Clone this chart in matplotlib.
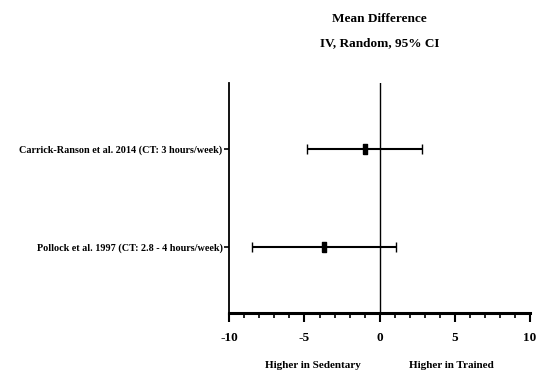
import matplotlib
matplotlib.use("Agg")
import matplotlib.pyplot as plt
import matplotlib.transforms as mtransforms
from matplotlib.ticker import MultipleLocator

studies = ["Carrick-Ranson et al. 2014 (CT: 3 hours/week)",
           "Pollock et al. 1997 (CT: 2.8 - 4 hours/week)"]
mean_diff = [-1.0, -3.7]
ci_low = [-4.8, -8.5]
ci_high = [2.8, 1.1]
row_pos = [2.5, 1.0]
xticks = [-10, -5, 0, 5, 10]
title_lines = ["Mean Difference", "IV, Random, 95% CI"]
left_note = "Higher in Sedentary"
right_note = "Higher in Trained"

plt.rcParams['font.family'] = ['Liberation Serif', 'DejaVu Serif']
plt.rcParams['font.weight'] = 'bold'

fig = plt.figure(figsize=(5.4, 3.79), dpi=100)
ax = fig.add_axes([229.3/540, (379-313)/379, (530-229.3)/540, (313-83)/379])

err_lo = [m - l for m, l in zip(mean_diff, ci_low)]
err_hi = [h - m for m, h in zip(mean_diff, ci_high)]
rect = [(-0.5, -1), (0.5, -1), (0.5, 1), (-0.5, 1), (-0.5, -1)]
ax.errorbar(mean_diff, row_pos, xerr=[err_lo, err_hi], fmt='none',
            ecolor='black', elinewidth=1.5, capsize=3.6, capthick=1.0, zorder=3)
ax.plot(mean_diff, row_pos, linestyle='none', marker=rect, markersize=6.5,
        color='black', zorder=4)
ax.axvline(0, color='black', linewidth=1.0, zorder=2)

ax.set_xlim(-10, 10)
ax.set_ylim(0, 3.5)
ax.set_xticks(xticks)
ax.set_xticklabels([str(t) for t in xticks])
ax.xaxis.set_minor_locator(MultipleLocator(1))
ax.set_yticks(row_pos)
ax.set_yticklabels(studies)

for s in ['top', 'right']:
    ax.spines[s].set_visible(False)
ax.spines['left'].set_linewidth(1.3)
ax.spines['bottom'].set_linewidth(2.2)

ax.tick_params(axis='x', which='major', direction='out', length=6.5, width=1.5,
               labelsize=9.5, pad=7)
ax.tick_params(axis='x', which='minor', direction='out', length=3.8, width=1.2)
ax.tick_params(axis='y', which='major', direction='out', length=3.8, width=1.2,
               labelsize=7.3, pad=1)
for lab in ax.get_xticklabels() + ax.get_yticklabels():
    lab.set_fontweight('bold')

trans = mtransforms.blended_transform_factory(ax.transData, fig.transFigure)
ax.text(0, (379-19)/379, title_lines[0], transform=trans, ha='center', va='center',
        fontsize=9.5, fontweight='bold')
ax.text(0, (379-43)/379, title_lines[1], transform=trans, ha='center', va='center',
        fontsize=9.5, fontweight='bold')
ax.text(-4.44, (379-366)/379, left_note, transform=trans, ha='center', va='center',
        fontsize=8, fontweight='bold')
ax.text(4.75, (379-366)/379, right_note, transform=trans, ha='center', va='center',
        fontsize=8, fontweight='bold')

fig.savefig("out.png", dpi=100)
